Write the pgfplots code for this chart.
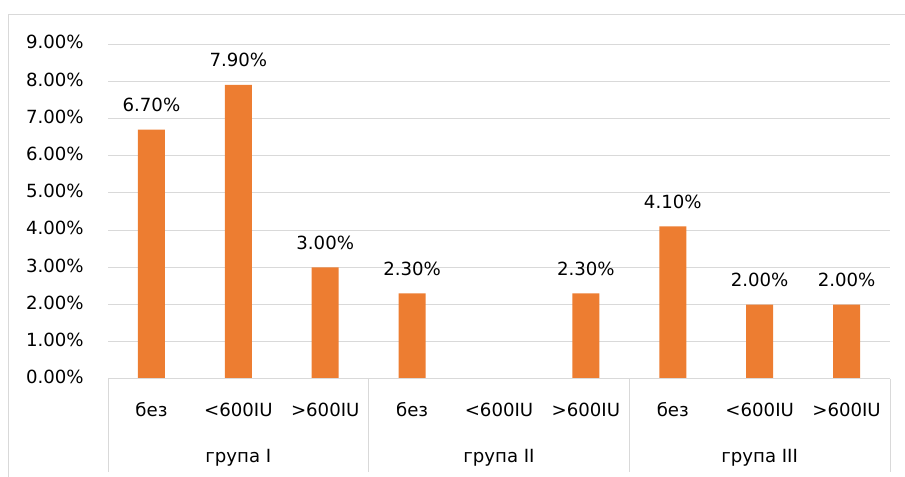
\documentclass[border=0pt]{standalone}
\usepackage{fontspec}
\setmainfont{DejaVu Sans}
\usepackage{pgfplots}
\pgfplotsset{compat=1.18}
\definecolor{barorange}{HTML}{ED7D31}
\definecolor{gridgray}{HTML}{D9D9D9}
\begin{document}
\begin{tikzpicture}[font=\fontsize{13.6}{16}\selectfont, x=1pt, y=1pt]
  % page: 905 x 477 px at 0.75 pt per px
  \useasboundingbox (0,0) rectangle (678.75,357.75);
  \clip (0,0) rectangle (678.75,357.75);
  % chart area frame (only left and top edges fall inside the page)
  \draw[gridgray, line width=0.75pt] (6,-5) -- (6,346.5) -- (690,346.5);
  \begin{axis}[
    at={(81pt,73.5pt)}, anchor=south west,
    scale only axis, width=586.5pt, height=251.25pt,
    xmin=-0.5, xmax=8.5, ymin=0, ymax=9,
    axis line style={draw=none},
    ytick={0,1,...,9},
    ymajorgrids, grid style={gridgray, line width=0.75pt},
    major tick length=0pt,
    /pgf/number format/assume math mode=true,
    yticklabel={\pgfmathprintnumber[fixed,zerofill,precision=2]{\tick}\%},
    yticklabel style={anchor=base east, inner sep=0pt, xshift=-18pt, yshift=-0.36em},
    xtick={0,...,8},
    xticklabels={без,<600IU,>600IU,без,<600IU,>600IU,без,<600IU,>600IU},
    xticklabel style={anchor=base, inner sep=0pt, yshift=-28.5pt},
    clip=false,
    ybar, bar width=20.25pt,
    nodes near coords={\pgfmathprintnumber[fixed,zerofill,precision=2]{\pgfplotspointmeta}\%},
    nodes near coords style={anchor=base, inner sep=0pt, yshift=13.5pt, font=\fontsize{13.6}{16}\selectfont},
  ]
    \addplot[fill=barorange, draw=none] coordinates {
      (0,6.7) (1,7.9) (2,3.0)
      (3,2.3) (5,2.3)
      (6,4.1) (7,2.0) (8,2.0)
    };
    % category axis line and group separators
    \draw[gridgray, line width=0.75pt] (axis cs:-0.5,0) -- (axis cs:8.5,0);
    \pgfplotsinvokeforeach{-0.5,2.5,5.5,8.5}{
      \draw[gridgray, line width=0.75pt] (axis cs:#1,0) -- ([yshift=-69.75pt]axis cs:#1,0);
    }
    \node[anchor=base, inner sep=0pt] at ([yshift=-63pt]axis cs:1,0) {група I};
    \node[anchor=base, inner sep=0pt] at ([yshift=-63pt]axis cs:4,0) {група II};
    \node[anchor=base, inner sep=0pt] at ([yshift=-63pt]axis cs:7,0) {група III};
  \end{axis}
\end{tikzpicture}
\end{document}
